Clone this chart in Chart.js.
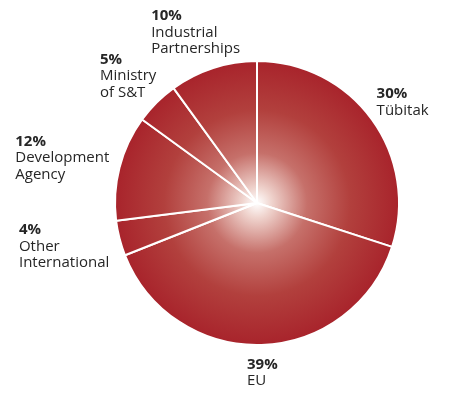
<!DOCTYPE html>
<html>
<head>
<meta charset="utf-8">
<script src="https://cdn.jsdelivr.net/npm/chart.js@4"></script>
<style>
  html, body { margin: 0; padding: 0; background: #fff; }
  #wrap { width: 453px; height: 403px; }
</style>
</head>
<body>
<div id="wrap"><canvas id="fundChart"></canvas></div>
<script>
// data, clockwise from 12 o'clock
const sources = ["Tübitak", "EU", "Other International", "Development Agency", "Ministry of S&T", "Industrial Partnerships"];
const shares = [30, 39, 4, 12, 5, 10];
const labelLines = [["Tübitak"], ["EU"], ["Other", "International"], ["Development", "Agency"], ["Ministry", "of S&T"], ["Industrial", "Partnerships"]];

const FONT = "'Open Sans', sans-serif";
const TEXT = "#262626";

let grad;
function redFill(ctx) {
  const chart = ctx.chart;
  const area = chart.chartArea;
  if (!area) return "#a8232b";
  if (!grad) {
    const cx = (area.left + area.right) / 2;
    const cy = (area.top + area.bottom) / 2;
    const r = Math.min(area.width, area.height) / 2;
    grad = chart.ctx.createRadialGradient(cx, cy, 0, cx, cy, r);
    grad.addColorStop(0, "#ffffff");
    grad.addColorStop(0.1, "#f0d5cf");
    grad.addColorStop(0.35, "#c6706a");
    grad.addColorStop(0.65, "#b2403d");
    grad.addColorStop(1, "#a8232b");
  }
  return grad;
}

// labels placed outside each slice, based on the slice's mid angle
const outsideLabels = {
  id: "outsideLabels",
  afterDraw(chart) {
    const ctx = chart.ctx;
    const meta = chart.getDatasetMeta(0);
    const lh = 16.5;
    ctx.save();
    ctx.textBaseline = "top";
    ctx.textAlign = "left";
    ctx.fillStyle = TEXT;
    meta.data.forEach((arc, i) => {
      const p = arc.getProps(["x", "y", "startAngle", "endAngle", "outerRadius"], true);
      const mid = (p.startAngle + p.endAngle) / 2;
      const cos = Math.cos(mid), sin = Math.sin(mid);
      const rr = p.outerRadius + 12;
      const ax = p.x + rr * cos, ay = p.y + rr * sin;
      const lines = [shares[i] + "%"].concat(labelLines[i]);
      let w = 0;
      lines.forEach((t, k) => {
        ctx.font = (k === 0 ? "bold " : "") + "15px " + FONT;
        w = Math.max(w, ctx.measureText(t).width);
      });
      const h = lines.length * lh;
      const x = ax - w * (1 - cos) / 2;
      const y = ay - h * (1 - sin) / 2;
      lines.forEach((t, k) => {
        ctx.font = (k === 0 ? "bold " : "") + "15px " + FONT;
        ctx.fillText(t, x, y + k * lh);
      });
    });
    ctx.restore();
  }
};

new Chart(document.getElementById("fundChart"), {
  type: "pie",
  data: {
    labels: sources,
    datasets: [{
      data: shares,
      backgroundColor: redFill,
      borderColor: "#ffffff",
      borderWidth: 2
    }]
  },
  options: {
    responsive: true,
    maintainAspectRatio: false,
    animation: false,
    layout: { padding: { left: 114, right: 53, top: 60, bottom: 57 } },
    plugins: {
      legend: { display: false },
      tooltip: { enabled: false }
    }
  },
  plugins: [outsideLabels]
});
</script>
</body>
</html>
